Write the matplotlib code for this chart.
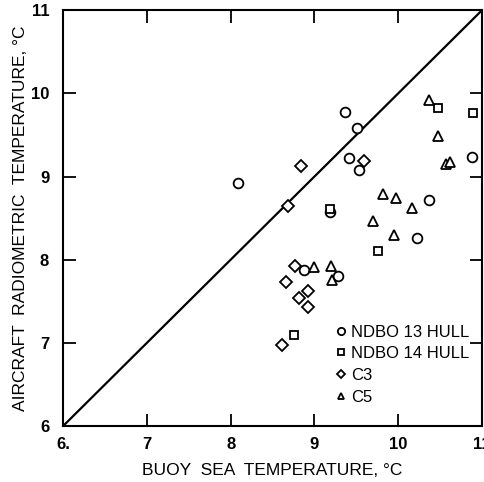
import matplotlib
matplotlib.use("Agg")
import matplotlib.pyplot as plt

# NDBO 13 HULL (circles)
c13_x = [8.09, 9.37, 9.51, 9.41, 9.53, 9.18, 8.88, 9.28, 10.37, 10.22, 10.88]
c13_y = [8.92, 9.77, 9.58, 9.22, 9.08, 8.57, 7.875, 7.80, 8.72, 8.26, 9.23]
# NDBO 14 HULL (squares)
c14_x = [10.47, 10.89, 9.19, 9.76, 8.76]
c14_y = [9.82, 9.76, 8.61, 8.10, 7.09]
# C3 (diamonds)
c3_x = [8.84, 9.59, 8.68, 8.77, 8.66, 8.92, 8.82, 8.92, 8.61]
c3_y = [9.13, 9.19, 8.65, 7.92, 7.73, 7.62, 7.54, 7.43, 6.98]
# C5 (triangles)
c5_x = [10.37, 10.47, 10.57, 10.62, 9.82, 9.97, 10.16, 9.70, 9.95, 8.99, 9.20, 9.21]
c5_y = [9.92, 9.49, 9.15, 9.17, 8.79, 8.74, 8.62, 8.46, 8.30, 7.91, 7.92, 7.75]

x_ticks = [6, 7, 8, 9, 10, 11]
x_ticklabels = ["6.", "7", "8", "9", "10", "11"]
y_ticks = [6, 7, 8, 9, 10, 11]
y_ticklabels = ["6", "7", "8", "9", "10", "11"]

plt.rcParams['font.family'] = ['Liberation Sans', 'DejaVu Sans']

fig = plt.figure(figsize=(4.85, 4.82), dpi=100)
ax = fig.add_axes([0.130, 0.116, 0.864, 0.863])

ax.plot([6, 11], [6, 11], color='black', lw=1.6, zorder=2)

ms = 7.0
kw = dict(linestyle='none', markerfacecolor='white', markeredgecolor='black', markeredgewidth=1.3, zorder=3)
ax.plot(c13_x, c13_y, marker='o', markersize=ms, label='NDBO 13 HULL', **kw)
ax.plot(c14_x, c14_y, marker='s', markersize=ms - 0.8, label='NDBO 14 HULL', **kw)
ax.plot(c3_x, c3_y, marker='D', markersize=ms - 1.2, label='C3', **kw)
ax.plot(c5_x, c5_y, marker='^', markersize=ms - 0.5, label='C5', **kw)

ax.set_xlim(6, 11)
ax.set_ylim(6, 11)
ax.set_xticks(x_ticks)
ax.set_xticklabels(x_ticklabels)
ax.set_yticks(y_ticks)
ax.set_yticklabels(y_ticklabels)
ax.tick_params(direction='in', length=9, width=1.3, top=True, right=True,
               labelsize=12)
ax.tick_params(axis='x', pad=8)
ax.tick_params(axis='y', pad=10)
for lab in ax.get_xticklabels() + ax.get_yticklabels():
    lab.set_fontweight('bold')
for s in ax.spines.values():
    s.set_linewidth(1.5)

ax.set_xlabel('BUOY  SEA  TEMPERATURE, °C', fontsize=12.5, labelpad=8)
ax.set_ylabel('AIRCRAFT  RADIOMETRIC  TEMPERATURE, °C', fontsize=12.5, labelpad=2)

leg = ax.legend(loc='upper left', bbox_to_anchor=(0.635, 0.26), frameon=False,
                fontsize=12, markerscale=0.75, handlelength=0.6, handletextpad=0.3,
                labelspacing=0.4, borderaxespad=0)

fig.savefig('out.png', dpi=100)
